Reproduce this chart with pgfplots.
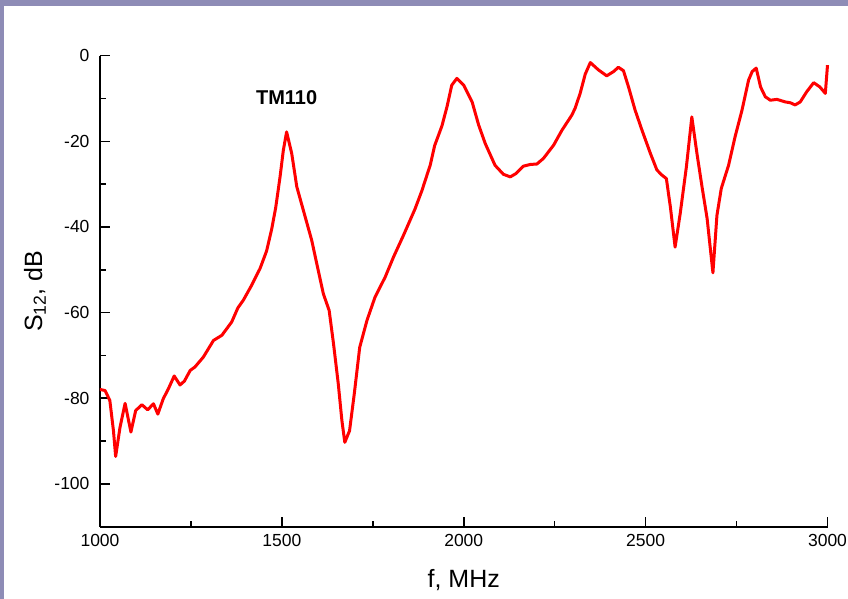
\documentclass[border=0pt]{standalone}
\usepackage{fontspec}
\setmainfont{Liberation Sans}
\usepackage{pgfplots}
\pgfplotsset{compat=1.18}
\definecolor{slide}{HTML}{8E8CB6}
\begin{document}
\begin{tikzpicture}
\useasboundingbox (0,0) rectangle (848pt,599pt);
\fill[slide] (0,0) rectangle (848pt,599pt);
\fill[white] (4pt,0) rectangle (848pt,593pt);
\begin{axis}[
  at={(100pt,72.3pt)}, anchor=south west,
  scale only axis, width=727.5pt, height=471pt,
  xmin=1000, xmax=3000, ymin=-110, ymax=0,
  axis x line=bottom, axis y line=left,
  axis line style={-, line width=2pt, black},
  tick align=inside,
  xtick={1000,1500,2000,2500,3000},
  ytick={0,-20,-40,-60,-80,-100},
  minor x tick num=1, minor y tick num=1,
  major tick length=9.5pt, minor tick length=5.5pt,
  every tick/.style={line width=1.6pt, black},
  /pgf/number format/assume math mode=true,
  /pgf/number format/1000 sep={},
  tick label style={font=\fontsize{17.5}{20}\selectfont},
  xticklabel style={yshift=-4.5pt},
  yticklabel style={xshift=-7pt},
  xlabel={f, MHz},
  ylabel={S\textsubscript{12}, dB},
  xlabel style={at={(axis description cs:0.5,-0.1132)}, anchor=center, font=\fontsize{25}{28}\selectfont},
  ylabel style={at={(axis description cs:-0.0893,0.5)}, anchor=center, font=\fontsize{25}{28}\selectfont},
  clip=false,
]
\addplot[red, line width=3pt, line join=round] coordinates {
(1000,-78.0) (1003,-78.0) (1014,-78.2) (1027,-80.5) (1037,-87.6) (1043,-93.6)
(1055,-86.8) (1069,-81.2) (1085,-87.9) (1098,-82.9) (1115,-81.5) (1131,-82.7)
(1147,-81.3) (1159,-83.7) (1174,-80.1) (1188,-77.8) (1204,-74.8) (1220,-76.9)
(1232,-76.0) (1248,-73.5) (1261,-72.7) (1284,-70.4) (1312,-66.5) (1335,-65.3)
(1362,-62.2) (1379,-58.9) (1394,-57.1) (1417,-53.6) (1440,-49.7) (1458,-45.6)
(1472,-40.5) (1483,-35.5) (1495,-28.3) (1504,-22.1) (1513,-17.8) (1527,-22.8)
(1541,-30.6) (1559,-36.1) (1582,-43.1) (1596,-48.6) (1614,-55.6) (1630,-59.5)
(1642,-67.3) (1655,-76.6) (1665,-85.2) (1673,-90.3) (1686,-87.6) (1699,-79.0)
(1714,-68.1) (1734,-61.8) (1756,-56.4) (1784,-51.7) (1807,-47.0) (1834,-42.0)
(1866,-35.8) (1885,-31.5) (1908,-25.5) (1920,-21.0) (1940,-16.4) (1954,-11.9)
(1967,-6.9) (1981,-5.3) (2000,-6.9) (2023,-10.8) (2041,-16.2) (2059,-20.5)
(2086,-25.6) (2109,-27.7) (2128,-28.3) (2144,-27.5) (2164,-25.8) (2183,-25.4)
(2201,-25.3) (2219,-24.0) (2247,-20.9) (2270,-17.4) (2297,-13.9) (2306,-12.3)
(2320,-8.8) (2334,-4.3) (2348,-1.6) (2370,-3.3) (2393,-4.7) (2412,-3.7)
(2425,-2.7) (2439,-3.5) (2453,-7.3) (2471,-12.7) (2490,-17.4) (2513,-22.8)
(2531,-26.7) (2545,-27.9) (2557,-28.7) (2568,-35.3) (2581,-44.7) (2595,-36.9)
(2612,-26.0) (2627,-14.3) (2641,-22.8) (2655,-30.6) (2669,-38.0) (2685,-50.7)
(2696,-37.3) (2708,-31.0) (2728,-25.6) (2746,-18.9) (2765,-12.7) (2783,-5.7)
(2793,-3.7) (2804,-2.9) (2816,-7.3) (2829,-9.6) (2843,-10.4) (2861,-10.2)
(2884,-10.8) (2898,-11.0) (2911,-11.5) (2925,-10.8) (2943,-8.4) (2962,-6.3)
(2979,-7.3) (2994,-8.8) (3000,-2.2)
};
\node[font=\fontsize{20}{23}\selectfont\bfseries] at (axis cs:1513,-9.8) {TM110};
\end{axis}
\end{tikzpicture}
\end{document}
